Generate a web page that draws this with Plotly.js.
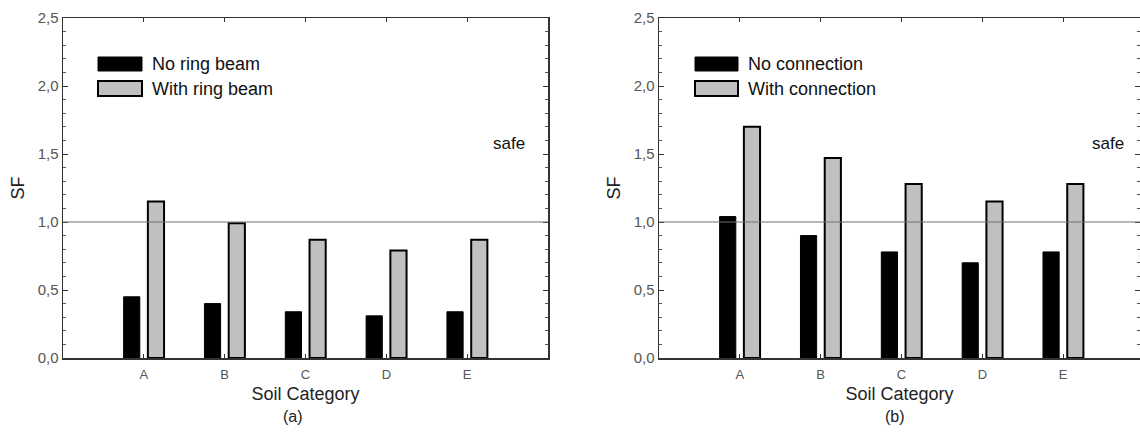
<!DOCTYPE html>
<html>
<head>
<meta charset="utf-8">
<script src="https://cdn.plot.ly/plotly-3.0.1.min.js"></script>
<style>html,body{margin:0;padding:0;background:#fff;}#chart{width:1140px;height:434px;}</style>
</head>
<body>
<div id="chart"></div>
<script>
// ---- data ----
const categories = ["A", "B", "C", "D", "E"];
const noRingBeam = [0.45, 0.40, 0.34, 0.31, 0.34];
const withRingBeam = [1.15, 0.99, 0.87, 0.79, 0.87];
const noConnection = [1.04, 0.90, 0.78, 0.70, 0.78];
const withConnection = [1.70, 1.47, 1.28, 1.15, 1.28];
const seriesNamesA = ["No ring beam", "With ring beam"];
const seriesNamesB = ["No connection", "With connection"];
const yTickVals = [0, 0.5, 1.0, 1.5, 2.0, 2.5];
const yTickText = ["0,0", "0,5", "1,0", "1,5", "2,0", "2,5"];
const safeLevel = 1.0;
const safeLabel = "safe";
const panelLabels = ["(a)", "(b)"];

// ---- styling ----
const W = 1140, H = 434;
const FONT = "Arial, 'Liberation Sans', sans-serif";
const BLACK = "#000000";
const GRAY = "#c0c0c0";
const pxX = x => x / W;
const pxY = y => 1 - y / H;

const traces = [
  {type: "bar", x: categories, y: noRingBeam, name: seriesNamesA[0], xaxis: "x", yaxis: "y",
   marker: {color: BLACK, line: {color: BLACK, width: 1}}, showlegend: false, hoverinfo: "x+y"},
  {type: "bar", x: categories, y: withRingBeam, name: seriesNamesA[1], xaxis: "x", yaxis: "y",
   marker: {color: GRAY, line: {color: BLACK, width: 2}}, showlegend: false, hoverinfo: "x+y"},
  {type: "bar", x: categories, y: noConnection, name: seriesNamesB[0], xaxis: "x2", yaxis: "y2",
   marker: {color: BLACK, line: {color: BLACK, width: 1}}, showlegend: false, hoverinfo: "x+y"},
  {type: "bar", x: categories, y: withConnection, name: seriesNamesB[1], xaxis: "x2", yaxis: "y2",
   marker: {color: GRAY, line: {color: BLACK, width: 2}}, showlegend: false, hoverinfo: "x+y"}
];

const yDomain = [pxY(358), pxY(18)];

function xAxis(domain, range, anchor) {
  return {
    domain: domain, anchor: anchor, type: "category", range: range,
    showgrid: false, zeroline: false,
    showline: true, linecolor: "#333", linewidth: 1.5, mirror: "ticks",
    ticks: "inside", ticklen: 4, tickwidth: 1, tickcolor: "#333",
    ticklabelstandoff: 4,
    tickfont: {family: FONT, size: 13, color: "#555"},
    title: {text: "Soil Category", font: {family: FONT, size: 18, color: "#222"}, standoff: 6},
    fixedrange: true
  };
}
function yAxis(anchor) {
  return {
    domain: yDomain, anchor: anchor, range: [0, 2.5],
    showgrid: false, zeroline: false,
    showline: true, linecolor: "#333", linewidth: 1.5, mirror: "ticks",
    ticks: "inside", ticklen: 5, tickwidth: 1, tickcolor: "#333",
    tickvals: yTickVals, ticktext: yTickText,
    minor: {dtick: 0.1, ticks: "inside", ticklen: 3, tickcolor: "#555", tickwidth: 1},
    tickfont: {family: FONT, size: 15, color: "#555"},
    title: {text: "SF", font: {family: FONT, size: 18, color: "#222"}, standoff: 8},
    fixedrange: true
  };
}

const shapes = [];
const annotations = [];

function addPanel(xref, yref, names, legendPx, safePos) {
  shapes.push({type: "line", xref: xref + " domain", yref: yref, x0: 0, x1: 1, y0: safeLevel, y1: safeLevel,
    line: {color: "#707070", width: 1.2}, layer: "above"});
  annotations.push({xref: xref, yref: yref, x: safePos, y: 1.58, text: safeLabel, showarrow: false,
    font: {family: FONT, size: 17, color: "#111"}});
  // legend
  const L = legendPx;
  shapes.push({type: "rect", xref: "paper", yref: "paper", x0: pxX(L.x0), x1: pxX(L.x1), y0: pxY(71), y1: pxY(57),
    fillcolor: BLACK, line: {color: BLACK, width: 1}});
  shapes.push({type: "rect", xref: "paper", yref: "paper", x0: pxX(L.x0), x1: pxX(L.x1), y0: pxY(96), y1: pxY(81),
    fillcolor: GRAY, line: {color: BLACK, width: 2}});
  annotations.push({xref: "paper", yref: "paper", x: pxX(L.tx), y: pxY(64), xanchor: "left", yanchor: "middle",
    text: names[0], showarrow: false, font: {family: FONT, size: 18, color: "#111"}});
  annotations.push({xref: "paper", yref: "paper", x: pxX(L.tx), y: pxY(89), xanchor: "left", yanchor: "middle",
    text: names[1], showarrow: false, font: {family: FONT, size: 18, color: "#111"}});
}
addPanel("x", "y", seriesNamesA, {x0: 98, x1: 142, tx: 150}, 4.52);
addPanel("x2", "y2", seriesNamesB, {x0: 695, x1: 738, tx: 746}, 4.55);

annotations.push({xref: "paper", yref: "paper", x: pxX(293), y: pxY(416), text: panelLabels[0], showarrow: false,
  xanchor: "center", yanchor: "middle", font: {family: FONT, size: 16, color: "#222"}});
annotations.push({xref: "paper", yref: "paper", x: pxX(895), y: pxY(416), text: panelLabels[1], showarrow: false,
  xanchor: "center", yanchor: "middle", font: {family: FONT, size: 16, color: "#222"}});

const layout = {
  width: W, height: H,
  margin: {l: 0, r: 0, t: 0, b: 0},
  paper_bgcolor: "#fff", plot_bgcolor: "#fff",
  barmode: "group", bargap: 0.4, bargroupgap: 0.333,
  showlegend: false,
  xaxis: xAxis([pxX(63), pxX(548)], [-1, 5], "y"),
  yaxis: yAxis("x"),
  xaxis2: xAxis([pxX(659), 1], [-1, 4.95], "y2"),
  yaxis2: yAxis("x2"),
  shapes: shapes,
  annotations: annotations,
  font: {family: FONT}
};

Plotly.newPlot("chart", traces, layout, {displayModeBar: false, staticPlot: true});
</script>
</body>
</html>
